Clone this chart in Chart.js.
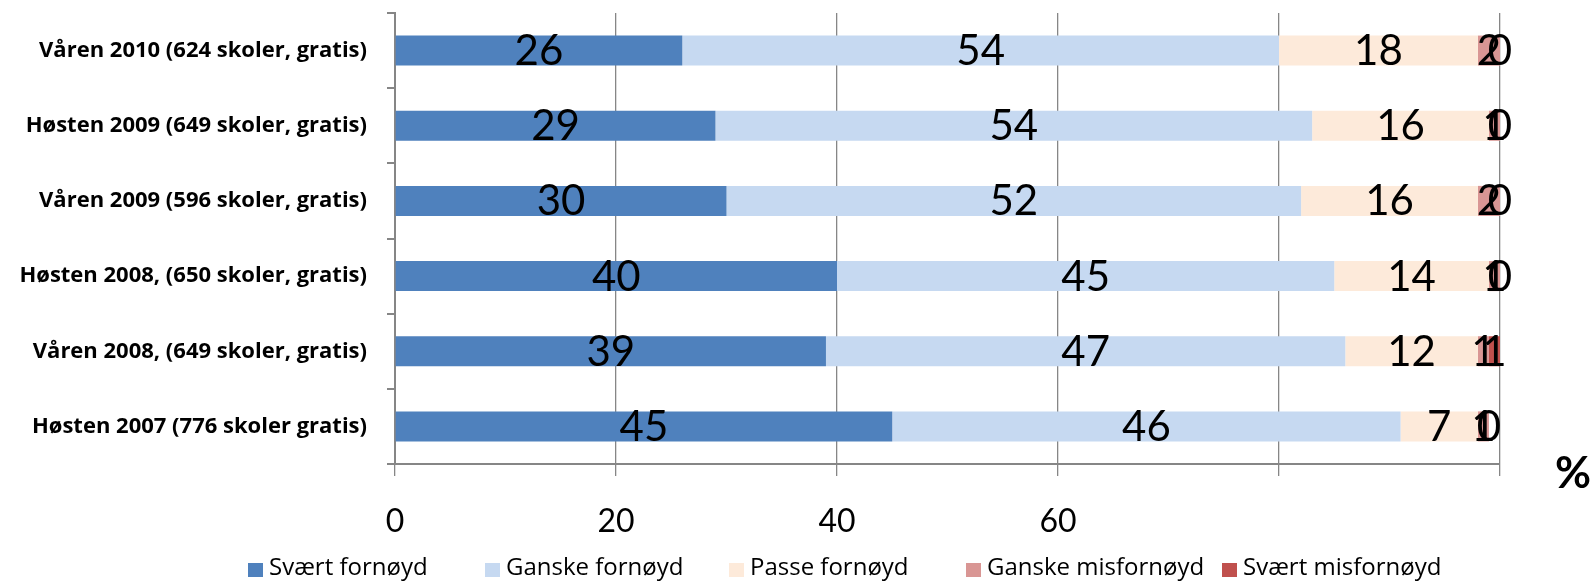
<!DOCTYPE html>
<html>
<head>
<meta charset="utf-8">
<script src="https://cdn.jsdelivr.net/npm/chart.js@4"></script>
<style>
  html, body { margin: 0; padding: 0; background: #fff; }
  #wrap { width: 1596px; height: 581px; }
</style>
</head>
<body>
<div id="wrap"><canvas id="mainCanvas"></canvas></div>
<script>
// categories, top to bottom
const terms = [
  "Våren 2010 (624 skoler, gratis)",
  "Høsten 2009 (649 skoler, gratis)",
  "Våren 2009 (596 skoler, gratis)",
  "Høsten 2008, (650 skoler, gratis)",
  "Våren 2008, (649 skoler, gratis)",
  "Høsten 2007 (776 skoler gratis)",
];

const svaertFornoyd    = [26, 29, 30, 40, 39, 45];
const ganskeFornoyd    = [54, 54, 52, 45, 47, 46];
const passeFornoyd     = [18, 16, 16, 14, 12, 7];
const ganskeMisfornoyd = [2, 1, 2, 1, 1, 1];
const svaertMisfornoyd = [0, 0, 0, 0, 1, 0];

const seriesNames = ["Svært fornøyd", "Ganske fornøyd", "Passe fornøyd", "Ganske misfornøyd", "Svært misfornøyd"];
const seriesColors = ["#4F81BD", "#C6D9F1", "#FDEADA", "#D99694", "#C0504D"];

const xTickValues = [0, 20, 40, 60]; // only these carry a label in the original

const DIGITS = "Lato, 'Open Sans', sans-serif";
const TEXT = "'Open Sans', Lato, sans-serif";
const GRAY = "#868686";

/**
 * Writes each segment's value in the middle of it, zeros included
 */
const valueLabels = {
  id: "valueLabels",
  afterDatasetsDraw(chart) {
    const ctx = chart.ctx;
    ctx.save();
    ctx.font = `42px ${DIGITS}`;
    ctx.fillStyle = "#000";
    ctx.textAlign = "center";
    ctx.textBaseline = "middle";
    chart.data.datasets.forEach((ds, i) => {
      chart.getDatasetMeta(i).data.forEach((bar, j) => {
        const cx = (bar.x + bar.base) / 2;
        ctx.fillText(String(ds.data[j]), cx, bar.y + 1);
      });
    });
    ctx.restore();
  }
};

/**
 * "%" unit mark and the legend row along the bottom
 */
const extras = {
  id: "extras",
  afterDraw(chart) {
    const ctx = chart.ctx;
    ctx.save();
    ctx.fillStyle = "#000";
    ctx.font = `bold 44px ${DIGITS}`;
    ctx.textAlign = "left";
    ctx.textBaseline = "middle";
    ctx.fillText("%", 1555, 474);

    const boxX = [248, 485, 729, 966, 1222];
    ctx.font = `24px ${TEXT}`;
    chart.data.datasets.forEach((ds, i) => {
      ctx.fillStyle = ds.backgroundColor;
      ctx.fillRect(boxX[i], 563, 15, 14);
      ctx.fillStyle = "#000";
      ctx.fillText(ds.label, boxX[i] + 21, 568);
    });
    ctx.restore();
  }
};

const seriesData = [svaertFornoyd, ganskeFornoyd, passeFornoyd, ganskeMisfornoyd, svaertMisfornoyd];

const datasets = seriesNames.map((name, i) => ({
  label: name,
  data: seriesData[i],
  backgroundColor: seriesColors[i],
  borderWidth: 0,
  barPercentage: 0.4,
  categoryPercentage: 1,
}));

const ctx = document.getElementById("mainCanvas").getContext("2d");

new Chart(ctx, {
  type: "bar",
  data: {
    labels: terms,
    datasets,
  },
  options: {
    indexAxis: "y",
    responsive: true,
    maintainAspectRatio: false,
    animation: false,
    layout: {
      padding: { top: 13, right: 96, bottom: 40, left: 0 },
    },
    plugins: {
      legend: { display: false },
      tooltip: { enabled: false },
    },
    scales: {
      x: {
        stacked: true,
        min: 0,
        max: 100,
        afterFit(scale) {
          scale.height = 77;
          scale.paddingLeft = 0;
          scale.paddingRight = 0;
        },
        ticks: {
          stepSize: 20,
          padding: 26,
          color: "#000",
          font: { family: DIGITS, size: 32 },
          callback(value) {
            return xTickValues.includes(value) ? String(value) : "";
          },
        },
        grid: {
          color: GRAY,
          lineWidth: 1.3,
          tickLength: 12,
        },
        border: { color: GRAY, width: 2 },
      },
      y: {
        stacked: true,
        afterFit(scale) {
          scale.width = 395;
          scale.paddingTop = 0;
          scale.paddingBottom = 0;
        },
        ticks: {
          padding: 20,
          color: "#000",
          font: { family: TEXT, size: 22, weight: "bold" },
        },
        grid: {
          drawOnChartArea: false,
          tickLength: 8,
          color: GRAY,
          lineWidth: 2,
        },
        border: { color: GRAY, width: 2 },
      },
    },
  },
  plugins: [valueLabels, extras],
});
</script>
</body>
</html>
